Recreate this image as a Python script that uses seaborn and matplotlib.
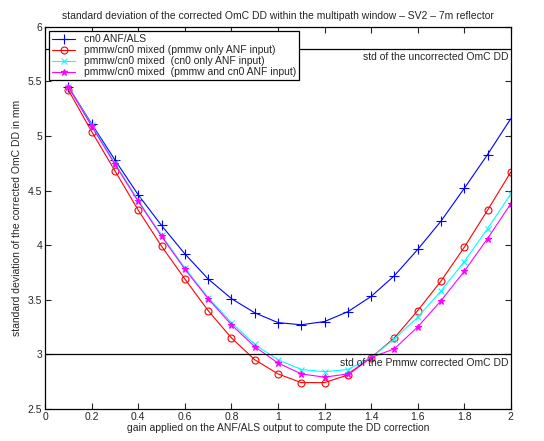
import numpy as np
import pandas as pd
import seaborn as sns
import matplotlib.pyplot as plt

# gain values and std curves
gain = [0.1, 0.2, 0.3, 0.4, 0.5, 0.6, 0.7, 0.8, 0.9, 1.0,
        1.1, 1.2, 1.3, 1.4, 1.5, 1.6, 1.7, 1.8, 1.9, 2.0]
cn0_als = [5.45, 5.11, 4.78, 4.46, 4.18, 3.92, 3.69, 3.51, 3.38, 3.29,
           3.27, 3.30, 3.39, 3.53, 3.72, 3.96, 4.22, 4.52, 4.83, 5.16]
pmmw_only = [5.42, 5.04, 4.68, 4.32, 3.99, 3.69, 3.40, 3.15, 2.95, 2.82,
             2.74, 2.74, 2.81, 2.97, 3.15, 3.40, 3.67, 3.98, 4.32, 4.67]
cn0_only = [5.45, 5.10, 4.75, 4.41, 4.09, 3.79, 3.52, 3.29, 3.09, 2.95,
            2.86, 2.84, 2.86, 2.97, 3.14, 3.34, 3.58, 3.85, 4.15, 4.47]
pmmw_cn0 = [5.45, 5.09, 4.74, 4.40, 4.08, 3.78, 3.51, 3.27, 3.07, 2.92,
            2.82, 2.79, 2.82, 2.97, 3.05, 3.25, 3.49, 3.76, 4.06, 4.38]
labels = ["cn0 ANF/ALS",
          "pmmw/cn0 mixed (pmmw only ANF input)",
          "pmmw/cn0 mixed  (cn0 only ANF input)",
          "pmmw/cn0 mixed  (pmmw and cn0 ANF input)"]
uncorrected_std = 5.8
pmmw_std = 3.0

sns.set_style("ticks")
plt.rcParams['font.family'] = ['Liberation Sans', 'DejaVu Sans']
plt.rcParams['xtick.direction'] = 'in'
plt.rcParams['ytick.direction'] = 'in'

fig = plt.figure(figsize=(5.44, 4.41), dpi=100)
ax = fig.add_axes([0.083, 0.073, 0.856, 0.866])

series = [(cn0_als, "blue", "+", 7), (pmmw_only, "red", "o", 5),
          (cn0_only, "cyan", "x", 5), (pmmw_cn0, "magenta", "*", 5)]
for (vals, col, mk, ms), lab in zip(series, labels):
    sns.lineplot(x=gain, y=vals, ax=ax, color=col, marker=mk, label=lab,
                 linewidth=0.8, markersize=ms,
                 markerfacecolor="none" if mk == "o" else col,
                 markeredgecolor=col, markeredgewidth=0.8)

ax.axhline(uncorrected_std, color="black", linewidth=0.9)
ax.axhline(pmmw_std, color="black", linewidth=0.9)
ax.text(1.99, uncorrected_std - 0.03, "std of the uncorrected OmC DD",
        ha="right", va="top", fontsize=7.5)
ax.text(1.99, pmmw_std - 0.03, "std of the Pmmw corrected OmC DD",
        ha="right", va="top", fontsize=7.5)

ax.set_xlim(0, 2)
ax.set_ylim(2.5, 6)
ax.set_xticks(np.arange(0, 2.01, 0.2))
ax.set_xticklabels(["0", "0.2", "0.4", "0.6", "0.8", "1", "1.2", "1.4", "1.6", "1.8", "2"])
ax.set_yticks(np.arange(2.5, 6.01, 0.5))
ax.set_yticklabels(["2.5", "3", "3.5", "4", "4.5", "5", "5.5", "6"])
ax.tick_params(labelsize=7.5, top=True, right=True, length=4, width=0.8, pad=2)
for sp in ax.spines.values():
    sp.set_linewidth(0.9)
    sp.set_color("black")

ax.set_xlabel("gain applied on the ANF/ALS output to compute the DD correction", fontsize=7.5, labelpad=1)
ax.set_ylabel("standard deviation of the corrected OmC DD in mm", fontsize=7.5, labelpad=4)
ax.set_title("standard deviation of the corrected OmC DD within the multipath window \u2013 SV2 \u2013 7m reflector",
             fontsize=7.5, pad=6)

leg = ax.legend(loc="upper left", fontsize=7.5, frameon=True, fancybox=False,
                edgecolor="black", framealpha=1, borderpad=0.3, labelspacing=0.1,
                handlelength=2.2, borderaxespad=0.4)
leg.get_frame().set_linewidth(0.9)

fig.savefig("out.png", dpi=100)
